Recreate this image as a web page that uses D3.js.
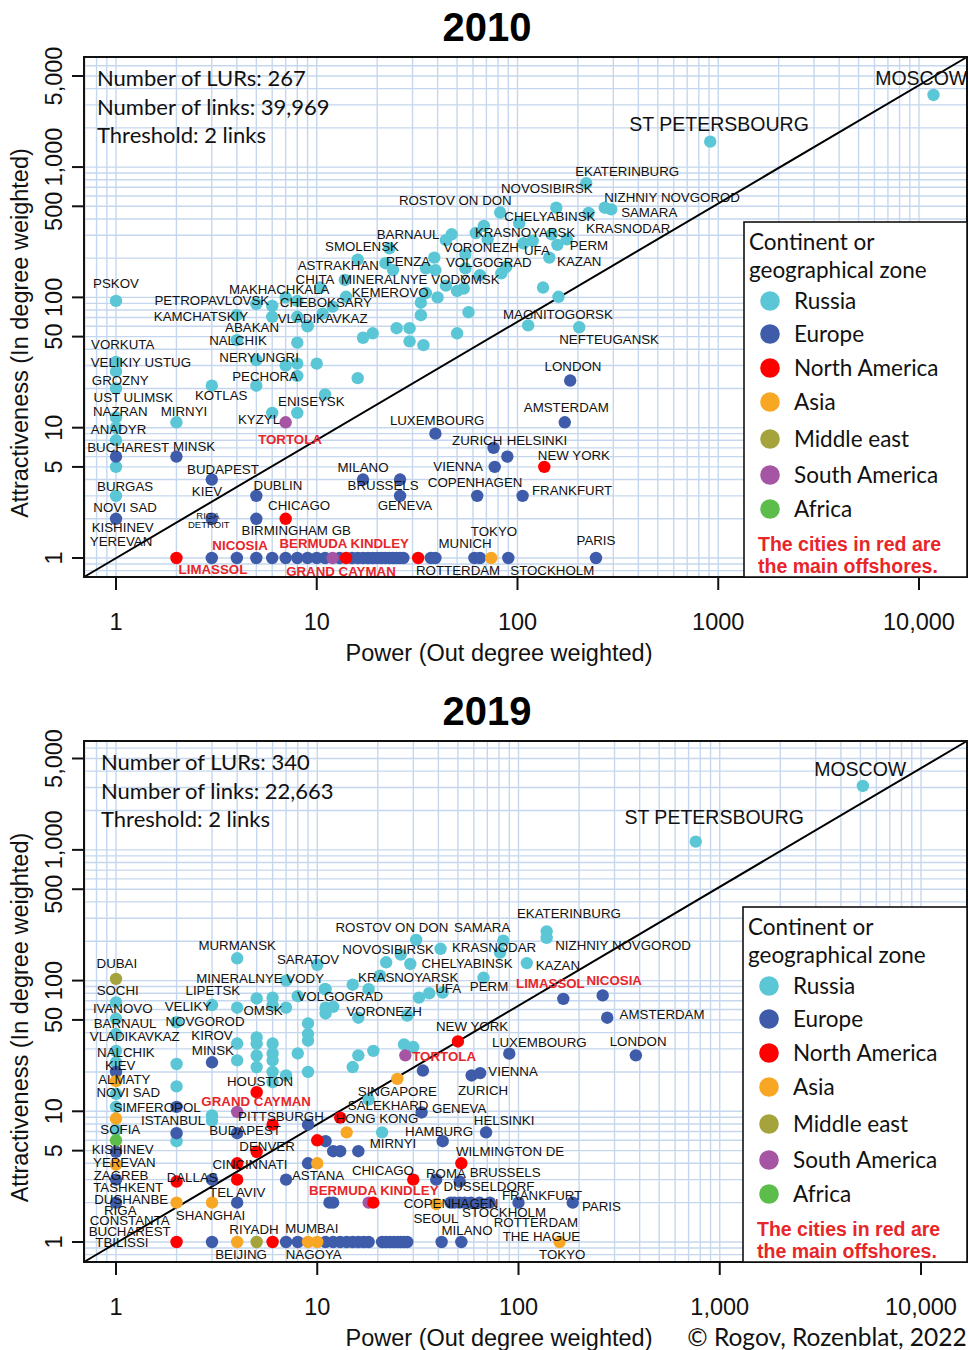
<!DOCTYPE html>
<html><head><meta charset="utf-8">
<script src="https://cdn.jsdelivr.net/npm/d3@7"></script>
<style>body{margin:0;background:#fff}</style>
</head><body>
<svg id="c" width="968" height="1350" xmlns="http://www.w3.org/2000/svg"></svg>
<script>
// ---------- DATA ----------
const zones = ["Russia","Europe","North America","Asia","Middle east","South America","Africa"];
const zoneColors = ["#5bc7d6","#3e5caa","#ff0000","#f8a725","#a5a43c","#a555a4","#5dbd4b"];
const xTicks = [1,10,100,1000,10000];
const xTickLabels2010 = ["1","10","100","1000","10,000"];
const xTickLabels2019 = ["1","10","100","1,000","10,000"];
const yTicks = [1,5,10,50,100,500,1000,5000];
const yTickLabels = ["1","5","10","50","100","500","1,000","5,000"];
const stats2010 = ["Number of LURs: 267","Number of links: 39,969","Threshold: 2 links"];
const stats2019 = ["Number of LURs: 340","Number of links: 22,663","Threshold: 2 links"];
const offshoreNote = ["The cities in red are","the main offshores."];

// [power (out degree), attractiveness (in degree)]
const russia2010 = [[11810,3575],[912,1567],[220,751],[156,488],[272,488],[293,474],[226,445],[82,448],[102,370],[68,354],[47,305],[62,312],[44,275],[71,279],[148,305],[176,279],[107,260],[119,272],[158,253],[144,202],[55,214],[38.5,202],[23,238],[16,195],[22,183],[24,162],[35,167],[39,162],[55,167],[65,148],[83,153],[88,172],[44,123],[50,112],[54,117],[35,108],[40,100],[33,91],[33,73],[57,77],[25,58],[29,58],[17,49],[19,53],[29,46],[34,43],[50,53],[134,119],[160,101],[113,61],[203,59],[10.4,119],[13.8,136],[10.7,75],[12,85],[14,101],[1,94],[5,89],[6,86],[7,100],[8,94],[4,73],[6,71],[8,71],[9,61],[1,32],[1,27],[1,20],[1,12],[1,10],[1,8],[1,5],[1,3],[2,11],[3,21],[4,47],[5,33],[5,21],[6,13],[7,30],[8,45],[8,31],[8,25],[8,13],[9,60],[10,31],[11,18],[16,24]];
const europe2010 = [[1,6],[1,2],[2,6],[3,4],[3,2],[5,3],[5,2],[183,23],[172,11],[39,9],[76,7],[89,6],[77,5],[17,4],[26,4],[26,3],[63,3],[106,3],[3,1],[4,1],[5,1],[6,1],[7,1],[8,1],[9,1],[10,1],[11,1],[13,1],[15,1],[16,1],[17,1],[18,1],[19,1],[20,1],[21,1],[22,1],[23,1],[24,1],[25,1],[26,1],[27,1],[37,1],[39,1],[61,1],[65,1],[90,1],[246,1]];
const northAmerica2010 = [[7,2],[136,5],[2,1],[14,1],[32,1]];
const asia2010 = [[74,1]];
const middleEast2010 = [];
const southAmerica2010 = [[7,11],[12,1]];
const africa2010 = [];

const russia2019 = [[5140,3083],[760,1157],[138,238],[138,212],[84,202],[81,164],[41,175],[31,205],[26,158],[22,138],[29,134],[110,136],[67,105],[36,80],[32,74],[42,81],[18,86],[15,93],[20.5,109],[11,86],[12,63],[11,62],[11,56],[16,52],[28,54],[27,32.5],[30,31],[19,29],[16,26.8],[15,21.8],[18,12.3],[21,6.9],[4,148],[10,132],[7,100],[10.9,86],[5,73],[6,74],[8,76],[3,65],[1,68],[4,62],[6,65],[7,62],[1,51],[1,39],[1,29],[1,23.7],[1,13.6],[1,10.8],[1,7.2],[2,48],[2,23],[2,15.5],[2,5.9],[3,9.3],[3,8.5],[4,33],[4,24.5],[5,36.7],[5,33],[5,26.7],[5,21.8],[6,33],[6,27.7],[6,24.5],[6,20],[6,16.7],[7,18.8],[8,27.7],[9,47],[9,39],[9,34.8],[9,20]];
const europe2019 = [[167,72.5],[262,77],[276,52],[383,26.8],[90,27.6],[33.5,20.5],[58.5,18.8],[64.5,19.6],[33,9.8],[11,5.9],[42,5.9],[69,6.9],[12,4.95],[13,4.95],[16,4.95],[39,3],[51,2.9],[12,2],[46,2],[48,2],[51,2],[54,2],[58,2],[64,2],[72,2],[100,2],[186,2],[1,20],[1,4.9],[1,3],[1,2],[2,10.8],[2,6.8],[3,23.7],[3,3],[4,6.8],[4,2],[9,7.9],[9,4],[7,3],[11.5,2],[3,1],[7,1],[8,1],[11,1],[12,1],[13,1],[14,1],[15,1],[16,1],[17,1],[18,1],[21,1],[22,1],[23,1],[24,1],[25,1],[26,1],[27,1],[28,1],[41.5,1],[52,1]];
const northAmerica2019 = [[50,34.2],[52,4],[30,3],[13,8.95],[10,6],[19,2],[2,2.9],[4,4],[4,3],[5,14],[5,4.9],[6,7.9],[2,1],[6,1]];
const asia2019 = [[25,17.7],[14,6.9],[10,4],[39,1.95],[160,1],[1,17],[1,8.8],[1,3.9],[2,2],[3,2],[4,1],[9,1],[10,1]];
const middleEast2019 = [[1,103],[5,1]];
const southAmerica2019 = [[27.4,26.8],[4,9.9],[18,2]];
const africa2019 = [[1,6]];

// [name, power anchor, attractiveness anchor, style]  n=normal r=offshore b=big s=small
const labels2010 = [["MOSCOW",10260,4830,"b"],["ST PETERSBOURG",1010,2143,"b"],["EKATERINBURG",352,933,"n"],["NOVOSIBIRSK",140,691,"n"],["ROSTOV ON DON",49,559,"n"],["NIZHNIY NOVGOROD",589,590,"n"],["SAMARA",453,452,"n"],["CHELYABINSK",145,422,"n"],["KRASNODAR",356,341,"n"],["KRASNOYARSK",109,318,"n"],["BARNAUL",28.5,307,"n"],["PERM",227,253,"n"],["VORONEZH",66,244,"n"],["UFA",125,231,"n"],["SMOLENSK",16.8,248,"n"],["KAZAN",203,190,"n"],["PENZA",28.5,190,"n"],["VOLGOGRAD",72,187,"n"],["ASTRAKHAN",12.8,177,"n"],["CHITA",9.8,138,"n"],["MINERALNYE VODY",27.5,138,"n"],["OMSK",65,138,"n"],["MAKHACHKALA",6.5,116,"n"],["KEMEROVO",23.2,110,"n"],["PETROPAVLOVSK",3.0,95.5,"n"],["CHEBOKSARY",11.1,92,"n"],["KAMCHATSKIY",2.65,72,"n"],["VLADIKAVKAZ",10.7,69.5,"n"],["MAGNITOGORSK",159,74.6,"n"],["ABAKAN",4.76,59.3,"n"],["NEFTEUGANSK",286,48,"n"],["NALCHIK",4.05,47,"n"],["PSKOV",1,129,"n"],["VORKUTA",1.08,43.9,"n"],["VELIKIY USTUG",1.33,31.9,"n"],["NERYUNGRI",5.16,34.9,"n"],["GROZNY",1.05,23.2,"n"],["PECHORA",5.53,24.9,"n"],["UST ULIMSK",1.22,17.2,"n"],["KOTLAS",3.34,17.8,"n"],["ENISEYSK",9.4,16,"n"],["NAZRAN",1.05,13.4,"n"],["MIRNYI",2.18,13.4,"n"],["KYZYL",5.16,11.7,"n"],["ANADYR",1.03,9.77,"n"],["TORTOLA",7.36,8.19,"r"],["LUXEMBOURG",39.8,11.5,"n"],["AMSTERDAM",175,14.4,"n"],["LONDON",189,29.8,"n"],["BUCHAREST",1.15,7.11,"n"],["MINSK",2.45,7.24,"n"],["ZURICH",63,8.05,"n"],["HELSINKI",125,8.05,"n"],["NEW YORK",191,6.17,"n"],["VIENNA",50.6,5.08,"n"],["BUDAPEST",3.41,4.82,"n"],["MILANO",17,4.99,"n"],["BRUSSELS",21.4,3.63,"n"],["COPENHAGEN",61.5,3.83,"n"],["FRANKFURT",187,3.33,"n"],["BURGAS",1.11,3.57,"n"],["KIEV",2.84,3.27,"n"],["DUBLIN",6.41,3.63,"n"],["NOVI SAD",1.11,2.46,"n"],["CHICAGO",8.17,2.55,"n"],["GENEVA",27.5,2.55,"n"],["RIGA",2.87,2.1,"s"],["DETROIT",2.9,1.82,"s"],["KISHINEV",1.08,1.73,"n"],["YEREVAN",1.06,1.35,"n"],["BIRMINGHAM GB",7.9,1.64,"n"],["TOKYO",76.4,1.61,"n"],["PARIS",246,1.37,"n"],["NICOSIA",4.15,1.26,"r"],["BERMUDA KINDLEY",13.7,1.3,"r"],["MUNICH",54.8,1.3,"n"],["LIMASSOL",3.04,0.824,"r"],["GRAND CAYMAN",13.2,0.795,"r"],["ROTTERDAM",50.6,0.81,"n"],["STOCKHOLM",149,0.81,"n"]];
const labels2019 = [["MOSCOW",4990,4150,"b"],["ST PETERSBOURG",938,1786,"b"],["EKATERINBURG",178,325,"n"],["ROSTOV ON DON",23.5,258,"n"],["SAMARA",66,254,"n"],["NOVOSIBIRSK",22.5,175,"n"],["KRASNODAR",75.6,179,"n"],["NIZHNIY NOVGOROD",331,185,"n"],["MURMANSK",4.0,188,"n"],["SARATOV",9.0,145,"n"],["DUBAI",1.01,135,"n"],["CHELYABINSK",55.5,135,"n"],["KAZAN",157,132,"n"],["MINERALNYE VODY",5.2,104,"n"],["KRASNOYARSK",28.3,107,"n"],["LIMASSOL",144,95,"r"],["NICOSIA",299,100,"r"],["SOCHI",1.02,84,"n"],["LIPETSK",3.03,84,"n"],["UFA",44.7,87,"n"],["PERM",71.4,90,"n"],["VOLGOGRAD",13,75.5,"n"],["IVANOVO",1.08,62,"n"],["VELIKY",2.28,64,"n"],["OMSK",5.38,59,"n"],["VORONEZH",21.5,58,"n"],["AMSTERDAM",517,55,"n"],["BARNAUL",1.11,47,"n"],["NOVGOROD",2.77,48.7,"n"],["NEW YORK",58.8,44.6,"n"],["VLADIKAVKAZ",1.24,37.4,"n"],["KIROV",3.0,38,"n"],["LUXEMBOURG",127,33.6,"n"],["LONDON",393,34.2,"n"],["MINSK",3.03,29.2,"n"],["NALCHIK",1.12,28.2,"n"],["TORTOLA",42.7,26.3,"r"],["KIEV",1.05,22.4,"n"],["VIENNA",94,20.2,"n"],["ALMATY",1.1,17.5,"n"],["HOUSTON",5.2,17,"n"],["NOVI SAD",1.15,14,"n"],["SINGAPORE",25,14.2,"n"],["ZURICH",66.7,14.5,"n"],["GRAND CAYMAN",4.97,11.9,"r"],["SIMFEROPOL",1.6,10.7,"n"],["SALEKHARD",22.5,11.1,"n"],["GENEVA",50.7,10.5,"n"],["ISTANBUL",1.92,8.5,"n"],["PITTSBURGH",6.6,9.2,"n"],["HONG KONG",19.8,8.85,"n"],["HELSINKI",84.8,8.5,"n"],["SOFIA",1.05,7.3,"n"],["BUDAPEST",4.38,7.16,"n"],["HAMBURG",40.3,7.04,"n"],["MIRNYI",23.8,5.7,"n"],["DENVER",5.63,5.4,"n"],["KISHINEV",1.08,5.13,"n"],["WILMINGTON DE",90.8,4.95,"n"],["YEREVAN",1.1,4.08,"n"],["CINCINNATI",4.63,3.94,"n"],["ZAGREB",1.06,3.25,"n"],["ASTANA",10.1,3.25,"n"],["CHICAGO",21.2,3.55,"n"],["ROMA",43.6,3.36,"n"],["BRUSSELS",85.8,3.42,"n"],["DALLAS",2.39,3.13,"n"],["TASHKENT",1.15,2.63,"n"],["TEL AVIV",4.0,2.41,"n"],["BERMUDA KINDLEY",19.1,2.49,"r"],["DUSSELDORF",71.4,2.68,"n"],["DUSHANBE",1.19,2.13,"n"],["FRANKFURT",131,2.28,"n"],["COPENHAGEN",46.2,1.99,"n"],["PARIS",258,1.88,"n"],["RIGA",1.05,1.75,"n"],["STOCKHOLM",84.8,1.69,"n"],["SHANGHAI",2.95,1.61,"n"],["CONSTANTA",1.17,1.47,"n"],["SEOUL",38.9,1.52,"n"],["ROTTERDAM",122,1.42,"n"],["BUCHAREST",1.17,1.21,"n"],["RIYADH",4.85,1.26,"n"],["MUMBAI",9.4,1.28,"n"],["MILANO",55.5,1.23,"n"],["THE HAGUE",130,1.11,"n"],["TBILISSI",1.07,1.0,"n"],["BEIJING",4.18,0.80,"n"],["NAGOYA",9.6,0.80,"n"],["TOKYO",165,0.81,"n"]];

// ---------- DRAW ----------
const svg = d3.select("#c");
const LAB = "'Liberation Sans', Arial, Helvetica, sans-serif";
const MYR = "Lato, 'Open Sans', sans-serif";
const OFFRED = "#e8262a";

function panel(cfg) {
  const x = d3.scaleLog().domain([1, 10000]).range(cfg.xr);
  const y = d3.scaleLog().domain([1, 5000]).range(cfg.yr);
  const [fx0, fx1, fy0, fy1] = cfg.frame;
  const g = svg.append("g");
  const clipId = "clip" + cfg.year;
  svg.append("clipPath").attr("id", clipId).append("rect")
    .attr("x", fx0).attr("y", fy0).attr("width", fx1 - fx0).attr("height", fy1 - fy0);

  const gridVals = d3.range(-1, 5).flatMap(e => d3.range(1, 10).map(k => +(k * Math.pow(10, e)).toPrecision(3)));
  const grid = g.append("g").attr("stroke", "#c5d7ee").attr("stroke-width", 1.4);
  grid.selectAll(".gx").data(gridVals.filter(v => x(v) > fx0 && x(v) < fx1)).join("line")
    .attr("x1", d => x(d)).attr("x2", d => x(d)).attr("y1", fy0).attr("y2", fy1);
  grid.selectAll(".gy").data(gridVals.filter(v => y(v) > fy0 && y(v) < fy1)).join("line")
    .attr("y1", d => y(d)).attr("y2", d => y(d)).attr("x1", fx0).attr("x2", fx1);

  // diagonal
  g.append("line").attr("x1", fx0).attr("y1", fy1).attr("x2", fx1).attr("y2", fy0)
    .attr("stroke", "#000").attr("stroke-width", 2);

  // points
  const pg = g.append("g").attr("clip-path", `url(#${clipId})`);
  cfg.series.forEach((s, i) => {
    if (!s) return;
    pg.append("g").selectAll("circle").data(s).join("circle")
      .attr("cx", d => x(d[0])).attr("cy", d => y(d[1])).attr("r", 6.2)
      .attr("fill", zoneColors[cfg.order[i]]);
  });

  // labels
  const lg = g.append("g").attr("clip-path", `url(#${clipId})`);
  lg.selectAll("text").data(cfg.labels).join("text")
    .attr("x", d => x(d[1])).attr("y", d => y(d[2])).attr("dy", "0.36em")
    .attr("text-anchor", "middle")
    .attr("font-family", LAB)
    .attr("font-size", d => d[3] === "b" ? 19.5 : d[3] === "s" ? 9.5 : 13.3)
    .attr("font-weight", d => d[3] === "r" ? "bold" : "normal")
    .attr("fill", d => d[3] === "r" ? OFFRED : "#111")
    .text(d => d[0]);

  // frame
  g.append("rect").attr("x", fx0).attr("y", fy0).attr("width", fx1 - fx0).attr("height", fy1 - fy0)
    .attr("fill", "none").attr("stroke", "#111").attr("stroke-width", 2);

  // axes ticks
  const ax = g.append("g").attr("stroke", "#111").attr("stroke-width", 2);
  ax.selectAll(".tx").data(xTicks).join("line")
    .attr("x1", d => x(d)).attr("x2", d => x(d)).attr("y1", fy1).attr("y2", fy1 + 13);
  ax.selectAll(".ty").data(yTicks).join("line")
    .attr("y1", d => y(d)).attr("y2", d => y(d)).attr("x1", fx0).attr("x2", fx0 - 12);

  g.selectAll(".txl").data(xTicks).join("text")
    .attr("x", d => x(d)).attr("y", fy1 + 53).attr("text-anchor", "middle")
    .attr("font-family", LAB).attr("font-size", 23.5).attr("fill", "#111")
    .text((d, i) => cfg.xTickLabels[i]);
  // R keeps "500" and "1,000" apart; nudge those two so they don't collide
  const nudge = v => v === 1000 ? -10 : v === 500 ? 5 : 0;
  g.selectAll(".tyl").data(yTicks).join("text")
    .attr("transform", d => `translate(62,${y(d) + nudge(d)}) rotate(-90)`).attr("text-anchor", "middle")
    .attr("font-family", LAB).attr("font-size", 23.5).attr("fill", "#111")
    .text((d, i) => yTickLabels[i]);

  // axis titles
  g.append("text").attr("x", 499).attr("y", fy1 + 84).attr("text-anchor", "middle")
    .attr("font-family", LAB).attr("font-size", 23.5).attr("fill", "#111").text("Power (Out degree weighted)");
  g.append("text").attr("transform", `translate(28,${(fy0 + fy1) / 2 + 16}) rotate(-90)`).attr("text-anchor", "middle")
    .attr("font-family", LAB).attr("font-size", 23.5).attr("fill", "#111").text("Attractiveness (In degree weighted)");

  // title
  g.append("text").attr("x", 487).attr("y", fy0 - 16).attr("text-anchor", "middle")
    .attr("font-family", LAB).attr("font-size", 40).attr("font-weight", "bold").attr("fill", "#000").text(cfg.year);

  // stats
  g.selectAll(".st").data(cfg.stats).join("text")
    .attr("x", cfg.statX).attr("y", (d, i) => fy0 + 29 + i * 28.5)
    .attr("font-family", MYR).attr("font-size", 22).attr("fill", "#111").text(d => d);

  // legend
  const lx = cfg.legendX, ly = fy1 - 355;
  const leg = g.append("g");
  leg.append("rect").attr("x", lx).attr("y", ly).attr("width", fx1 - lx).attr("height", fy1 - ly)
    .attr("fill", "#fff").attr("stroke", "#111").attr("stroke-width", 1.6);
  leg.append("text").attr("x", lx + 5).attr("y", ly + 28).attr("font-family", MYR).attr("font-size", 22.5).attr("fill", "#111").text("Continent or");
  leg.append("text").attr("x", lx + 5).attr("y", ly + 56).attr("font-family", MYR).attr("font-size", 22.5).attr("fill", "#111").text("geographical zone");
  const itemY = [87, 120, 154, 188, 225, 261, 295];
  zones.forEach((z, i) => {
    leg.append("circle").attr("cx", lx + 26).attr("cy", ly + itemY[i] - 8).attr("r", 9.8).attr("fill", zoneColors[i]);
    leg.append("text").attr("x", lx + 50).attr("y", ly + itemY[i]).attr("font-family", MYR).attr("font-size", 22.5).attr("fill", "#111").text(z);
  });
  offshoreNote.forEach((t, i) => {
    leg.append("text").attr("x", lx + 14).attr("y", ly + 329 + i * 22).attr("font-family", LAB)
      .attr("font-size", 19.5).attr("font-weight", "bold").attr("fill", OFFRED).text(t);
  });
}

panel({
  year: "2010", xr: [116, 919], yr: [558, 76], frame: [84, 967, 57, 577],
  series: [russia2010, europe2010, southAmerica2010, asia2010, middleEast2010, africa2010, northAmerica2010],
  order: [0, 1, 5, 3, 4, 6, 2],
  labels: labels2010, xTickLabels: xTickLabels2010, stats: stats2010, statX: 97, legendX: 744
});
panel({
  year: "2019", xr: [116, 921], yr: [1242, 758.5], frame: [84, 967, 741, 1262],
  series: [russia2019, europe2019, southAmerica2019, asia2019, middleEast2019, africa2019, northAmerica2019],
  order: [0, 1, 5, 3, 4, 6, 2],
  labels: labels2019, xTickLabels: xTickLabels2019, stats: stats2019, statX: 101, legendX: 743
});
svg.append("text").attr("x", 827).attr("y", 1346).attr("text-anchor", "middle")
  .attr("font-family", MYR).attr("font-size", 24.5).attr("fill", "#111").text("© Rogov, Rozenblat, 2022");
</script>
</body></html>
